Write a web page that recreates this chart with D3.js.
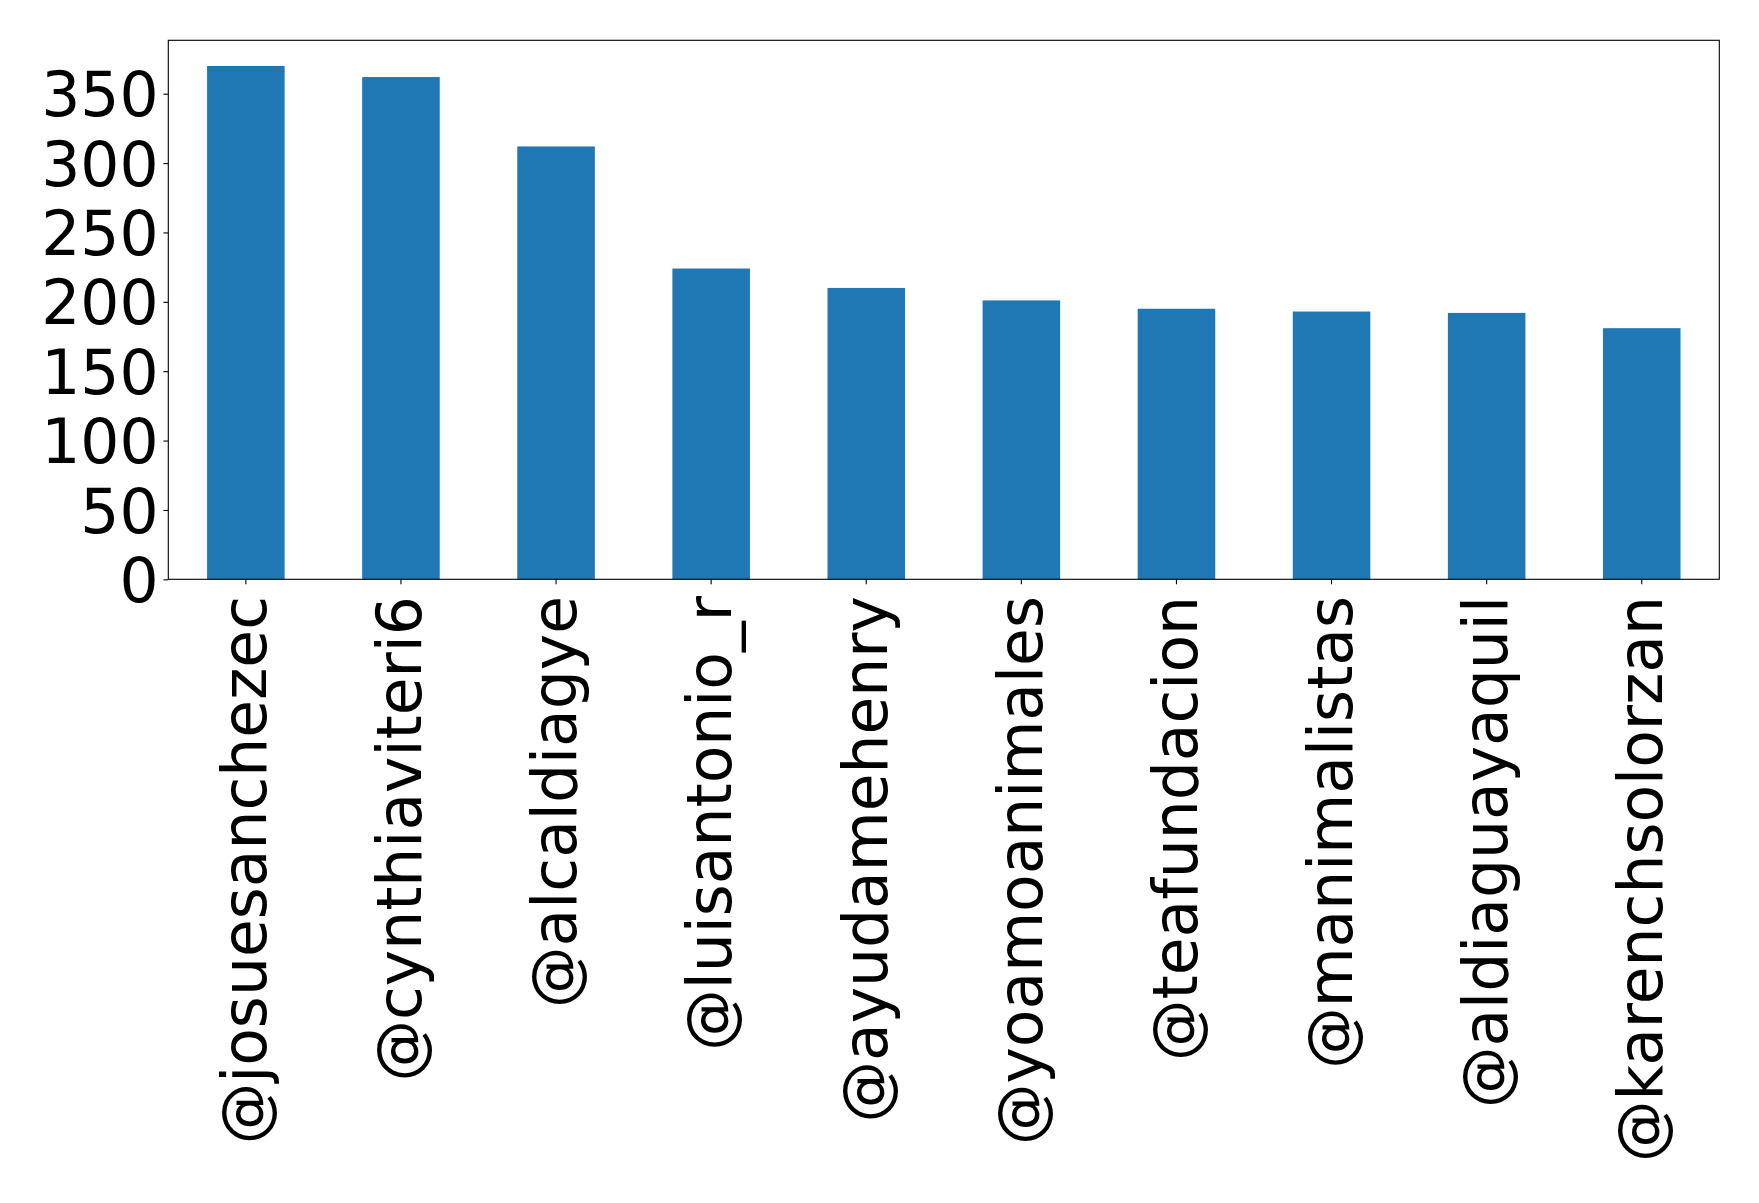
<!DOCTYPE html>
<html>
<head>
<meta charset="utf-8">
<script src="https://cdn.jsdelivr.net/npm/d3@7"></script>
<style>
  html, body { margin: 0; padding: 0; background: #ffffff; }
  svg { display: block; }
  text { font-family: "DejaVu Sans", sans-serif; fill: #000; }
</style>
</head>
<body>
<div id="chart"></div>
<script>
const categories = ["@josuesanchezec", "@cynthiaviteri6", "@alcaldiagye", "@luisantonio_r", "@ayudamehenry",
                    "@yoamoanimales", "@teafundacion", "@manimalistas", "@aldiaguayaquil", "@karenchsolorzan"];
const values = [370, 362, 312, 224, 210, 201, 195, 193, 192, 181];
const yTicks = [0, 50, 100, 150, 200, 250, 300, 350];

const W = 1759, H = 1203;
const plotLeft = 168.3, plotRight = 1719.3, plotTop = 40.3, plotBottom = 579.3;
const fontSize = 61.5;
const tickLen = 4.86, tickPad = 4.86;

const svg = d3.select("#chart").append("svg")
  .attr("width", W).attr("height", H)
  .attr("viewBox", `0 0 ${W} ${H}`);

svg.append("rect").attr("width", W).attr("height", H).attr("fill", "#fff");

const x = d3.scaleBand().domain(categories).range([plotLeft, plotRight])
  .paddingInner(0.5).paddingOuter(0.25);
const y = d3.scaleLinear().domain([0, d3.max(values) * 1.05]).range([plotBottom, plotTop]);

// bars
svg.append("g").selectAll("rect").data(values).join("rect")
  .attr("x", (d, i) => x(categories[i]))
  .attr("y", d => y(d))
  .attr("width", x.bandwidth())
  .attr("height", d => y(0) - y(d))
  .attr("fill", "#1f77b4");

// y axis
const yAxis = svg.append("g").attr("transform", `translate(${plotLeft},0)`)
  .call(d3.axisLeft(y).tickValues(yTicks).tickSize(tickLen).tickPadding(tickPad).tickFormat(d3.format("d")));
yAxis.select(".domain").remove();
yAxis.selectAll(".tick line").attr("stroke", "#000").attr("stroke-width", 1.1);
yAxis.selectAll(".tick text")
  .attr("font-family", "DejaVu Sans")
  .attr("font-size", fontSize)
  .attr("fill", "#000")
  .attr("dy", "0.36em");

// x axis
const xAxis = svg.append("g").attr("transform", `translate(0,${plotBottom})`)
  .call(d3.axisBottom(x).tickSize(tickLen).tickPadding(tickPad));
xAxis.select(".domain").remove();
xAxis.selectAll(".tick line").attr("stroke", "#000").attr("stroke-width", 1.1);
xAxis.selectAll(".tick text")
  .attr("font-family", "DejaVu Sans")
  .attr("font-size", fontSize)
  .attr("fill", "#000")
  .attr("text-anchor", "end")
  .attr("transform", `translate(0,${596 - plotBottom}) rotate(-90)`)
  .attr("x", 0)
  .attr("y", 0)
  .attr("dy", "0.33em");

// frame
svg.append("rect")
  .attr("x", plotLeft).attr("y", plotTop)
  .attr("width", plotRight - plotLeft).attr("height", plotBottom - plotTop)
  .attr("fill", "none").attr("stroke", "#000").attr("stroke-width", 1.1);
</script>
</body>
</html>
